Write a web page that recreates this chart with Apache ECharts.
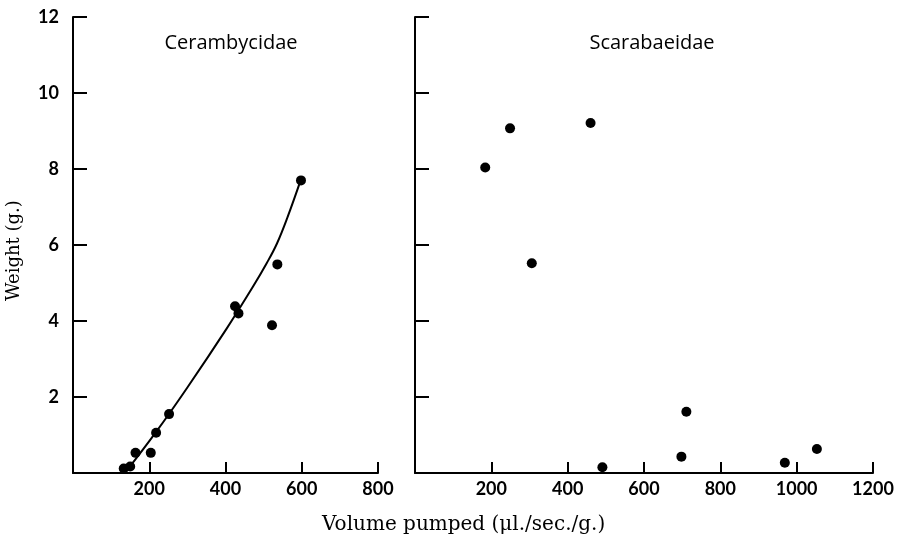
<!DOCTYPE html>
<html>
<head>
<meta charset="utf-8">
<script src="https://cdn.jsdelivr.net/npm/echarts@6/dist/echarts.min.js"></script>
<style>
  html, body { margin: 0; padding: 0; background: #fff; }
  #chart { width: 901px; height: 541px; }
</style>
</head>
<body>
<div id="chart"></div>
<script>
// Cerambycidae: volume pumped (ul/sec/g) vs weight (g)
const ceramPoints = [
  [598, 7.7], [536, 5.49], [425, 4.39], [434, 4.2], [522, 3.89],
  [252, 1.55], [218, 1.06], [164, 0.53], [204, 0.53], [150, 0.17], [133, 0.12]
];
// fitted curve
const ceramCurve = [
  [140, 0.05], [218, 1.08], [300, 2.25], [403, 3.8], [473, 4.92],
  [508, 5.52], [535, 6.04], [563, 6.74], [597, 7.7]
];
// Scarabaeidae
const scarabPoints = [
  [184, 8.04], [249, 9.07], [460, 9.21], [306, 5.52], [711, 1.61],
  [698, 0.43], [491, 0.15], [969, 0.27], [1053, 0.63]
];
const panelTitles = ['Cerambycidae', 'Scarabaeidae'];
const xName = 'Volume pumped (\u03bcl./sec./g.)';
const yName = 'Weight (g.)';

const chart = echarts.init(document.getElementById('chart'));

const tickFont = { fontFamily: 'Lato', fontWeight: 'bold', fontSize: 18, color: '#000' };
const axisBase = {
  axisLine: { show: true, onZero: false, lineStyle: { color: '#000', width: 2 } },
  axisTick: { show: true, inside: true, lineStyle: { color: '#000', width: 2 } },
  splitLine: { show: false }
};

function xAx(grid, max) {
  return Object.assign({}, axisBase, {
    type: 'value', gridIndex: grid, min: 0, max: max, interval: 200,
    axisTick: Object.assign({}, axisBase.axisTick, { length: 11 }),
    axisLabel: Object.assign({}, tickFont, {
      margin: 7,
      formatter: v => v === 0 ? '' : String(v)
    })
  });
}
function yAx(grid, showLabels) {
  return Object.assign({}, axisBase, {
    type: 'value', gridIndex: grid, min: 0, max: 12, interval: 2,
    axisTick: Object.assign({}, axisBase.axisTick, { length: 14 }),
    axisLabel: Object.assign({}, tickFont, {
      show: showLabels, margin: 14,
      formatter: v => v === 0 ? '' : String(v)
    })
  });
}

const titleFont = { fontFamily: 'Open Sans', fontWeight: 'normal', fontSize: 20, color: '#000' };

const option = {
  backgroundColor: '#fff',
  animation: false,
  grid: [
    { left: 73, top: 17, width: 305, height: 456 },
    { left: 415, top: 17, width: 458, height: 456 }
  ],
  xAxis: [xAx(0, 800), xAx(1, 1200)],
  yAxis: [yAx(0, true), yAx(1, false)],
  title: [
    { text: panelTitles[0], left: 226, top: 28, textAlign: 'center', textStyle: titleFont },
    { text: panelTitles[1], left: 647, top: 28, textAlign: 'center', textStyle: titleFont }
  ],
  graphic: [
    { type: 'text', left: 322, top: 515,
      style: { text: xName, font: '20px "DejaVu Serif"', fill: '#000' } },
    { type: 'text', x: 5, y: 301, rotation: Math.PI / 2, originX: 0, originY: 0,
      style: { text: yName, font: '18px "DejaVu Serif"', fill: '#000' } }
  ],
  series: [
    { type: 'line', xAxisIndex: 0, yAxisIndex: 0, data: ceramCurve, smooth: 0.4,
      showSymbol: false, lineStyle: { color: '#000', width: 2 } },
    { type: 'scatter', xAxisIndex: 0, yAxisIndex: 0, data: ceramPoints,
      symbolSize: 10, itemStyle: { color: '#000', opacity: 1 } },
    { type: 'scatter', xAxisIndex: 1, yAxisIndex: 1, data: scarabPoints,
      symbolSize: 10, itemStyle: { color: '#000', opacity: 1 } }
  ]
};
chart.setOption(option);
</script>
</body>
</html>
